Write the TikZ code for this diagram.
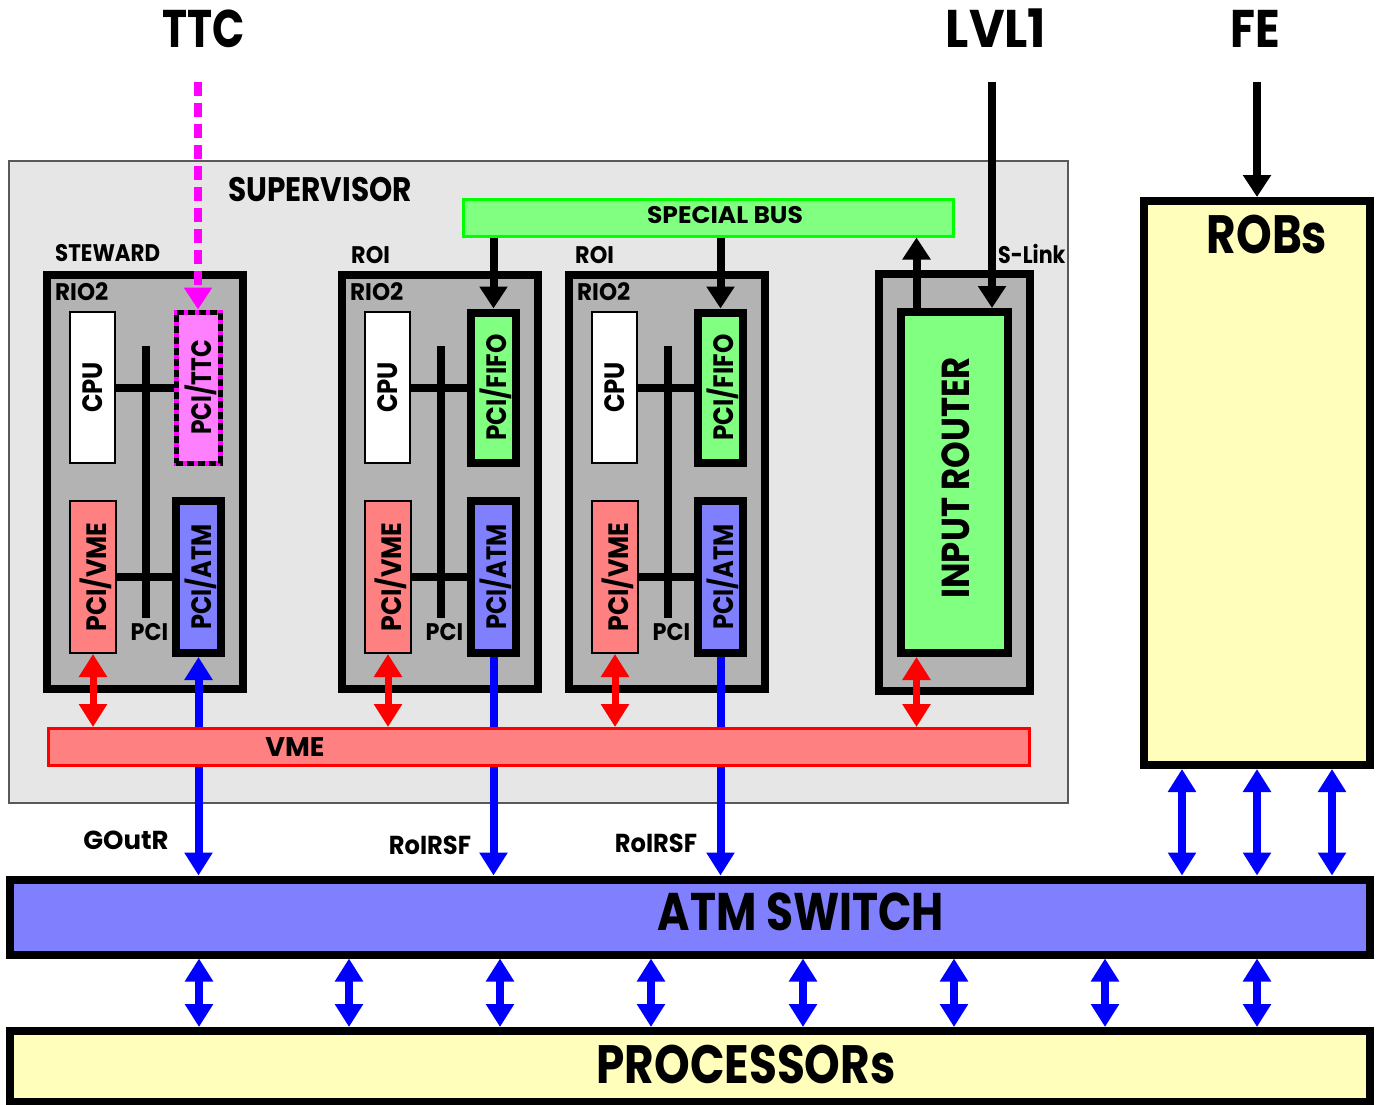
\documentclass[tikz,border=0pt]{standalone}
\usepackage{fontspec}
\usepackage{graphicx}
\setmainfont{Poppins}
\usetikzlibrary{arrows.meta}
\definecolor{supgray}{HTML}{E6E6E6}
\definecolor{riogray}{HTML}{B3B3B3}
\definecolor{lgreen}{HTML}{80FF80}
\definecolor{bgreen}{HTML}{00FF00}
\definecolor{lred}{HTML}{FF8080}
\definecolor{lblue}{HTML}{8080FF}
\definecolor{lyellow}{HTML}{FFFFBB}
\definecolor{lmag}{HTML}{FF80FF}
\definecolor{bmag}{HTML}{FF00FF}
\newcommand{\fsz}[1]{\fontsize{#1}{#1}\selectfont\bfseries}
\newcommand{\sq}[2]{\scalebox{#1}[1]{#2}}
\begin{document}
\begin{tikzpicture}[x=1pt,y=-1pt,
  box/.style={rectangle, inner sep=0pt, anchor=center},
  heavy/.style={box, draw=black, line width=8pt},
  light/.style={box, draw=black, line width=2pt},
  txt/.style={inner sep=0pt, text depth=0pt},
  bus/.style={line width=8pt, black},
  >={Triangle[width=27pt,length=23pt]},
  blk/.style={line width=8pt, black, -{Triangle[width=27pt,length=22pt]}},
  blu/.style={line width=8pt, blue},
  rd/.style={line width=7pt, red, <->},
]
\useasboundingbox (0,0) rectangle (1381,1105);

% supervisor background
\node[box, draw=black!65, line width=1.5pt, fill=supgray, minimum width=1059pt, minimum height=642pt] (sup) at (538.5,482) {};
\node[txt, font=\fsz{34}] (suplbl) at (320,189) {\sq{0.87}{SUPERVISOR}};

% special bus
\node[box, draw=bgreen, line width=3pt, fill=lgreen, minimum width=490pt, minimum height=37pt] (sbus) at (708.5,217.5) {};
\node[txt, font=\fsz{24}] (sbuslbl) at (725,215) {\sq{1.04}{SPECIAL BUS}};

% ATM switch and processors
\node[heavy, fill=lblue, minimum width=1360pt, minimum height=75pt] (atm) at (690,917) {};
\node[txt, font=\fsz{53}] (atmlbl) at (801,912) {\sq{0.83}{ATM SWITCH}};
\node[heavy, fill=lyellow, minimum width=1360pt, minimum height=71pt] (proc) at (690,1066.5) {};
\node[txt, font=\fsz{54}] (proclbl) at (746,1064) {\sq{0.84}{PROCESSORs}};

% ROBs
\node[heavy, fill=lyellow, minimum width=226pt, minimum height=564pt] (robs) at (1257,483) {};
\node[txt, font=\fsz{54}] (robslbl) at (1267,234) {\sq{0.84}{ROBs}};

% top labels
\node[txt, font=\fsz{53}] (ttclbl) at (204,28.5) {\sq{0.8}{TTC}};
\node[txt, font=\fsz{53}] (lvllbl) at (996,28.5) {\sq{0.92}{LVL1}};
\node[txt, font=\fsz{53}] (felbl) at (1255,28.5) {\sq{0.86}{FE}};
\coordinate (ttcsrc) at (198,82);
\coordinate (lvlsrc) at (992,82);
\coordinate (fesrc) at (1257,82);

% RIO2 crates
\foreach \n/\o in {s/0, a/295, b/522} {
  \node[heavy, fill=riogray, minimum width=196pt, minimum height=414pt] (rio\n) at ({145+\o},482) {};
  \node[txt, font=\fsz{24}, anchor=west] (rio2\n) at ({55+\o},291.5) {\sq{0.96}{RIO2}};
  \node[light, fill=white, minimum width=45pt, minimum height=151pt] (cpu\n) at ({92.5+\o},387.5) {};
  \node[txt, font=\fsz{28}, rotate=90] (cpulbl\n) at (cpu\n.center) {\sq{0.87}{CPU}};
  \node[light, fill=lred, minimum width=46pt, minimum height=152pt] (vme\n) at ({93+\o},577) {};
  \node[txt, font=\fsz{28}, rotate=90] (vmelbl\n) at (vme\n.center) {\sq{0.9}{PCI/VME}};
  \node[heavy, fill=lblue, minimum width=45pt, minimum height=152pt] (patm\n) at ({198.5+\o},577) {};
  \node[txt, font=\fsz{28}, rotate=90] (patmlbl\n) at (patm\n.center) {\sq{0.86}{PCI/ATM}};
  \coordinate (bustop\n) at ({146+\o},346);
  \coordinate (busbot\n) at ({146+\o},618);
  \draw[bus] (bustop\n) -- (busbot\n);
  \draw[bus] (vme\n.east) -- (patm\n.west);
  \node[txt, font=\fsz{24}] (pcilbl\n) at ({149.5+\o},631.5) {\sq{0.93}{PCI}};
}
\node[txt, font=\fsz{24}, anchor=west] (stewlbl) at (55,252.5) {\sq{0.89}{STEWARD}};
\node[txt, font=\fsz{24}, anchor=west] (roialbl) at (351,255) {\sq{0.93}{ROI}};
\node[txt, font=\fsz{24}, anchor=west] (roiblbl) at (575,255) {\sq{0.93}{ROI}};

% PCI/TTC (steward)
\node[box, draw=bmag, line width=5pt, fill=lmag, minimum width=44pt, minimum height=151pt,
  postaction={draw=black, line width=5pt, dash pattern=on 7pt off 4pt}] (ttc) at (198,387.5) {};
\node[txt, font=\fsz{28}, rotate=90] (ttclbl2) at (ttc.center) {\sq{0.83}{PCI/TTC}};
\draw[bus] (cpus.east) -- (ttc.west);

% PCI/FIFO (ROIs)
\foreach \n/\o in {a/295, b/522} {
  \node[heavy, fill=lgreen, minimum width=45pt, minimum height=150pt] (fifo\n) at ({198.5+\o},387.5) {};
  \node[txt, font=\fsz{28}, rotate=90] (fifolbl\n) at (fifo\n.center) {\sq{0.88}{PCI/FIFO}};
  \draw[bus] (cpu\n.east) -- (fifo\n.west);
  \draw[blk] (fifo\n.north |- sbus.south) -- (fifo\n.north);
}

% input router crate
\node[heavy, fill=riogray, minimum width=151pt, minimum height=417pt] (ircrate) at (954.5,482.5) {};
\node[heavy, fill=lgreen, minimum width=107pt, minimum height=341pt] (router) at (954.5,482.5) {};
\node[txt, font=\fsz{39}, rotate=90] (routerlbl) at (956,478) {\sq{0.87}{INPUT ROUTER}};
\node[txt, font=\fsz{24}, anchor=west] (slinklbl) at (998,254) {\sq{0.86}{S-Link}};
\coordinate (irx) at (916.5,0);
\draw[blk] (router.north -| irx) -- (sbus.south -| irx);
\draw[blk] (lvlsrc) -- (lvlsrc |- router.north);

% TTC input
\draw[line width=8pt, bmag, dash pattern=on 14pt off 7pt, -{Triangle[width=27pt,length=22pt]}] (ttcsrc) -- (ttc.north);

% FE to ROBs
\draw[blk] (fesrc) -- (robs.north);

% blue connections to ATM switch (under the VME bus)
\draw[blu, <->] (atm.north -| patms.south) -- (patms.south);
\draw[blu, ->] (patma.south) -- (patma.south |- atm.north);
\draw[blu, ->] (patmb.south) -- (patmb.south |- atm.north);

% VME bus
\node[box, draw=red, line width=3pt, fill=lred, minimum width=981pt, minimum height=37pt] (vmebus) at (538.5,747) {};
\node[txt, font=\fsz{27}] (vmebuslbl) at (295,747) {VME};

% red VME connections
\foreach \n in {s,a,b} {
  \draw[rd] (vme\n.south) -- (vme\n.south |- vmebus.north);
}
\draw[rd] (router.south -| irx) -- (vmebus.north -| irx);

% link labels
\node[txt, font=\fsz{26}] (goutr) at (126,840) {GOutR};
\node[txt, font=\fsz{26}] (rsfa) at (430,845) {\sq{0.93}{RoIRSF}};
\node[txt, font=\fsz{26}] (rsfb) at (656,843) {\sq{0.93}{RoIRSF}};

% ROBs <-> ATM
\foreach \x [count=\i] in {1182,1257,1332} {
  \coordinate (rx\i) at (\x,0);
  \draw[blu, <->] (robs.south -| rx\i) -- (atm.north -| rx\i);
}
% ATM <-> processors
\foreach \x [count=\i] in {199,349,500,651,803,954,1105,1257} {
  \coordinate (px\i) at (\x,0);
  \draw[blu, <->] (atm.south -| px\i) -- (proc.north -| px\i);
}
\end{tikzpicture}
\end{document}
